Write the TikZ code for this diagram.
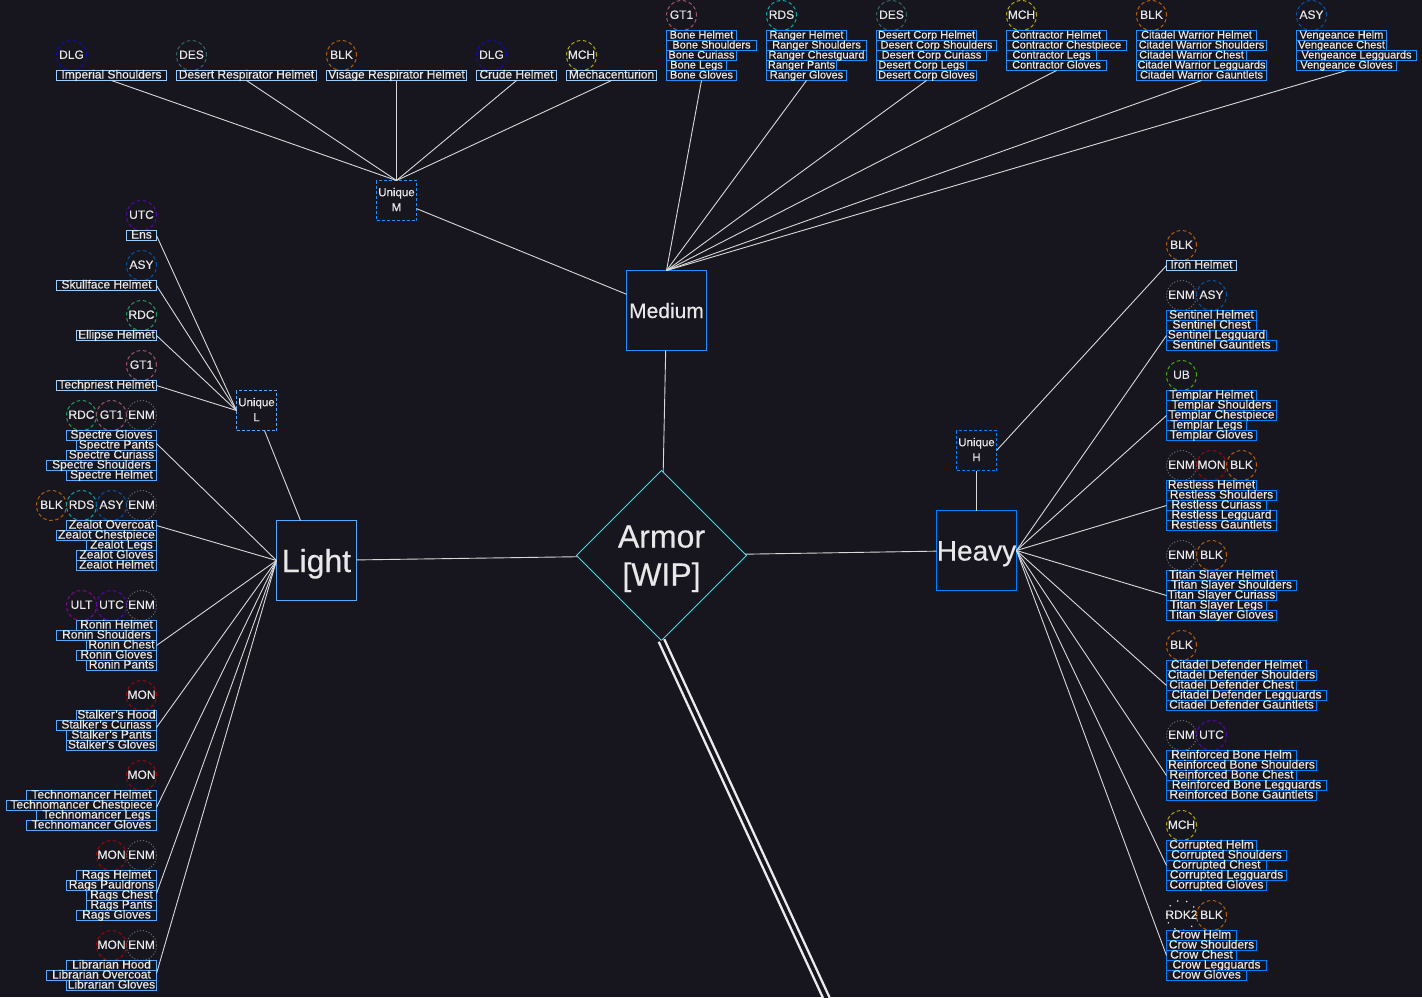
\documentclass[tikz,border=0pt]{standalone}
\usepackage{fontspec}
\setmainfont{Liberation Sans}[FakeBold=0.35]
\usetikzlibrary{shapes.geometric}
\definecolor{bgc}{HTML}{17161F}
\definecolor{txt}{HTML}{E8E8E8}
\definecolor{lnk}{HTML}{D8D8D8}
\definecolor{hvy}{HTML}{0080FF}
\definecolor{med}{HTML}{2090FF}
\definecolor{lgt}{HTML}{55AAFF}
\definecolor{pale}{HTML}{99CCFF}
\definecolor{dia}{HTML}{3FDCDC}
\tikzset{
  link/.style={draw=lnk,line width=0.9pt},
  rowbox/.style={draw,line width=1pt,inner sep=0pt,outer sep=0pt,text=txt,
    font=\fontsize{12}{12}\selectfont,text height=8pt,text depth=2pt,minimum height=10pt,anchor=north west},
  rowH/.style={rowbox,draw=hvy},
  rowM/.style={rowbox,draw=med,font=\fontsize{11}{11}\selectfont},
  rowL/.style={rowbox,draw=lgt},
  rowU/.style={rowbox,draw=pale},
  tagbase/.style={circle,line width=1pt,minimum size=30pt,inner sep=0pt,outer sep=0pt,text=txt,
    font=\fontsize{12}{12}\selectfont,text height=8.6pt,text depth=2pt},
  tagdash/.style={tagbase,draw=#1,dash pattern=on 3.6pt off 2.6pt},
  DLG/.style={tagdash=DLGc}, DES/.style={tagdash=DESc}, BLK/.style={tagdash=BLKc},
  MCH/.style={tagdash=MCHc}, UTC/.style={tagdash=UTCc}, ASY/.style={tagdash=ASYc},
  RDC/.style={tagdash=RDCc}, GTO/.style={tagdash=GTOc}, RDS/.style={tagdash=RDSc},
  ULT/.style={tagdash=ULTc}, MON/.style={tagdash=MONc}, UBB/.style={tagdash=UBBc},
  ENM/.style={tagbase,draw=ENMc,dash pattern=on 1.2pt off 1.8pt},
  RDK/.style={tagbase,draw=RDKc,line cap=round,dash pattern=on 0.1pt off 9pt,line width=1.7pt},
  mainbox/.style={draw,line width=1pt,minimum size=80pt,inner sep=0pt,outer sep=0pt,text=txt},
  uniq/.style={draw,line width=1pt,dash pattern=on 3pt off 2pt,minimum size=40pt,inner sep=0pt,outer sep=0pt,
    text=txt,align=center,font=\fontsize{11.5}{15}\selectfont},
}
\definecolor{DLGc}{HTML}{0A0ACC}
\definecolor{DESc}{HTML}{2F6868}
\definecolor{BLKc}{HTML}{B85C00}
\definecolor{MCHc}{HTML}{B3A600}
\definecolor{UTCc}{HTML}{5A00BB}
\definecolor{ASYc}{HTML}{0055AA}
\definecolor{RDCc}{HTML}{1A9F5F}
\definecolor{GTOc}{HTML}{A05565}
\definecolor{RDSc}{HTML}{00AAAA}
\definecolor{ULTc}{HTML}{8A0099}
\definecolor{MONc}{HTML}{AA0000}
\definecolor{UBBc}{HTML}{44AA00}
\definecolor{ENMc}{HTML}{666666}
\definecolor{RDKc}{HTML}{E0E0E0}
% stack with common right edge: name, right x, top y, style, {left/Text,...}
\newcommand\stackR[5]{\foreach \xa/\txa [count=\i] in {#5}{%
  \pgfmathsetmacro\rw{#2-\xa}\pgfmathsetmacro\yy{#3+(\i-1)*10}%
  \node[#4,minimum width=\rw pt] (#1\i) at (\xa,\yy) {\txa};}}
% stack with common left edge: name, left x, top y, style, {right/Text,...}
\newcommand\stackF[5]{\foreach \xa/\txa [count=\i] in {#5}{%
  \pgfmathsetmacro\rw{\xa-#2}\pgfmathsetmacro\yy{#3+(\i-1)*10}%
  \node[#4,minimum width=\rw pt] (#1\i) at (#2,\yy) {\txa};}}
\newcommand\tagc[5]{\node[#5] (#1) at (#2,#3) {\makebox[0pt][c]{#4}};}
\newcommand\lowered[2]{\raisebox{-#1pt}[0pt][0pt]{#2}}
\begin{document}
\begin{tikzpicture}[x=1pt,y=-1pt]
\fill[bgc] (0,0) rectangle (1422,997);
\useasboundingbox (0,0) rectangle (1422,997);
\begin{scope}[xshift=-0.5pt,yshift=-0.5pt]
% central nodes
\node[diamond,aspect=1,draw=dia,line width=1pt,minimum width=170pt,minimum height=170pt,inner sep=0pt,outer sep=0pt,
  text=txt,align=center,font=\fontsize{32}{38}\selectfont] (armor) at (662,555) {\lowered{11}{Armor}\\\lowered{11}{[WIP]}};
\node[mainbox,draw=med,font=\fontsize{21}{21}\selectfont] (medium) at (667,310) {\lowered{7.5}{Medium}};
\node[mainbox,draw=lgt,font=\fontsize{32}{32}\selectfont] (light) at (317,560) {\lowered{11.5}{Light}};
\node[mainbox,draw=hvy,font=\fontsize{28}{28}\selectfont] (heavy) at (977,550) {\lowered{10}{Heavy}};
\node[uniq,draw=med] (uM) at (397,200) {Unique\\M\rule[-2pt]{0pt}{0pt}};
\node[uniq,draw=lgt] (uL) at (257,410) {Unique\\L\rule[-2pt]{0pt}{0pt}};
\node[uniq,draw=hvy] (uH) at (977,450) {Unique\\H\rule[-2pt]{0pt}{0pt}};
\coordinate (offpage) at (840.5,1027);

% Unique M children
\tagc{tm1}{72}{55}{DLG}{DLG}
\tagc{tm2}{192}{55}{DES}{DES}
\tagc{tm3}{342}{55}{BLK}{BLK}
\tagc{tm4}{492}{55}{DLG}{DLG}
\tagc{tm5}{582}{55}{MCH}{MCH}
\stackF{imp}{57}{70}{rowU}{167/Imperial Shoulders}
\stackF{drh}{177}{70}{rowU}{317/Desert Respirator Helmet}
\stackF{vrh}{327}{70}{rowU}{467/Visage Respirator Helmet}
\stackF{cru}{477}{70}{rowU}{557/Crude Helmet}
\stackF{mec}{567}{70}{rowU}{657/Mechacenturion}

% Medium
\tagc{tb1}{682}{15}{GT1}{GTO}
\stackF{bone}{667}{30}{rowM}{737/Bone Helmet,757/Bone Shoulders,737/Bone Curiass,727/Bone Legs,737/Bone Gloves}
\tagc{tr1}{782}{15}{RDS}{RDS}
\stackF{rang}{767}{30}{rowM}{847/Ranger Helmet,867/Ranger Shoulders,867/Ranger Chestguard,837/Ranger Pants,847/Ranger Gloves}
\tagc{td1}{892}{15}{DES}{DES}
\stackF{dcor}{877}{30}{rowM}{977/Desert Corp Helmet,997/Desert Corp Shoulders,987/Desert Corp Curiass,967/Desert Corp Legs,977/Desert Corp Gloves}
\tagc{tc1}{1022}{15}{MCH}{MCH}
\stackF{cont}{1007}{30}{rowM}{1107/Contractor Helmet,1127/Contractor Chestpiece,1097/Contractor Legs,1107/Contractor Gloves}
\tagc{tw1}{1152}{15}{BLK}{BLK}
\stackF{cwar}{1137}{30}{rowM}{1257/Citadel Warrior Helmet,1267/Citadel Warrior Shoulders,1247/Citadel Warrior Chest,1267/Citadel Warrior Legguards,1267/Citadel Warrior Gauntlets}
\tagc{tv1}{1312}{15}{ASY}{ASY}
\stackF{veng}{1297}{30}{rowM}{1387/Vengeance Helm,1387/Vengeance Chest,1417/Vengeance Legguards,1397/Vengeance Gloves}

% Unique L children
\tagc{tl1}{142}{215}{UTC}{UTC}
\stackR{ens}{157}{230}{rowU}{127/Ens}
\tagc{tl2}{142}{265}{ASY}{ASY}
\stackR{sku}{157}{280}{rowU}{57/Skullface Helmet}
\tagc{tl3}{142}{315}{RDC}{RDC}
\stackR{ell}{157}{330}{rowU}{77/Ellipse Helmet}
\tagc{tl4}{142}{365}{GT1}{GTO}
\stackR{tec}{157}{380}{rowU}{57/Techpriest Helmet}

% Light
\tagc{ts1}{82}{415}{RDC}{RDC}\tagc{ts2}{112}{415}{GT1}{GTO}\tagc{ts3}{142}{415}{ENM}{ENM}
\stackR{spec}{157}{430}{rowL}{67/Spectre Gloves,77/Spectre Pants,67/Spectre Curiass,47/Spectre Shoulders,67/Spectre Helmet}
\tagc{tz1}{52}{505}{BLK}{BLK}\tagc{tz2}{82}{505}{RDS}{RDS}\tagc{tz3}{112}{505}{ASY}{ASY}\tagc{tz4}{142}{505}{ENM}{ENM}
\stackR{zeal}{157}{520}{rowL}{67/Zealot Overcoat,57/Zealot Chestpiece,87/Zealot Legs,77/Zealot Gloves,77/Zealot Helmet}
\tagc{to1}{82}{605}{ULT}{ULT}\tagc{to2}{112}{605}{UTC}{UTC}\tagc{to3}{142}{605}{ENM}{ENM}
\stackR{roni}{157}{620}{rowL}{77/Ronin Helmet,57/Ronin Shoulders,87/Ronin Chest,77/Ronin Gloves,87/Ronin Pants}
\tagc{tk1}{142}{695}{MON}{MON}
\stackR{stal}{157}{710}{rowL}{77/Stalker's Hood,57/Stalker's Curiass,67/Stalker's Pants,67/Stalker's Gloves}
\tagc{tn1}{142}{775}{MON}{MON}
\stackR{tech}{157}{790}{rowL}{27/Technomancer Helmet,7/Technomancer Chestpiece,37/Technomancer Legs,27/Technomancer Gloves}
\tagc{tg1}{112}{855}{MON}{MON}\tagc{tg2}{142}{855}{ENM}{ENM}
\stackR{rags}{157}{870}{rowL}{77/Rags Helmet,67/Rags Pauldrons,87/Rags Chest,87/Rags Pants,77/Rags Gloves}
\tagc{ti1}{112}{945}{MON}{MON}\tagc{ti2}{142}{945}{ENM}{ENM}
\stackR{libr}{157}{960}{rowL}{67/Librarian Hood,47/Librarian Overcoat,67/Librarian Gloves}

% Heavy
\tagc{hi1}{1182}{245}{BLK}{BLK}
\stackF{iron}{1167}{260}{rowU}{1237/Iron Helmet}
\tagc{hs1}{1182}{295}{ENM}{ENM}\tagc{hs2}{1212}{295}{ASY}{ASY}
\stackF{sent}{1167}{310}{rowH}{1257/Sentinel Helmet,1257/Sentinel Chest,1267/Sentinel Legguard,1277/Sentinel Gauntlets}
\tagc{ht1}{1182}{375}{UB}{UBB}
\stackF{temp}{1167}{390}{rowH}{1257/Templar Helmet,1277/Templar Shoulders,1277/Templar Chestpiece,1247/Templar Legs,1257/Templar Gloves}
\tagc{hr1}{1182}{465}{ENM}{ENM}\tagc{hr2}{1212}{465}{MON}{MON}\tagc{hr3}{1242}{465}{BLK}{BLK}
\stackF{rest}{1167}{480}{rowH}{1257/Restless Helmet,1277/Restless Shoulders,1267/Restless Curiass,1277/Restless Legguard,1277/Restless Gauntlets}
\tagc{hy1}{1182}{555}{ENM}{ENM}\tagc{hy2}{1212}{555}{BLK}{BLK}
\stackF{tita}{1167}{570}{rowH}{1277/Titan Slayer Helmet,1297/Titan Slayer Shoulders,1277/Titan Slayer Curiass,1267/Titan Slayer Legs,1277/Titan Slayer Gloves}
\tagc{hd1}{1182}{645}{BLK}{BLK}
\stackF{cdef}{1167}{660}{rowH}{1307/Citadel Defender Helmet,1317/Citadel Defender Shoulders,1297/Citadel Defender Chest,1327/Citadel Defender Legguards,1317/Citadel Defender Gauntlets}
\tagc{he1}{1182}{735}{ENM}{ENM}\tagc{he2}{1212}{735}{UTC}{UTC}
\stackF{rein}{1167}{750}{rowH}{1297/Reinforced Bone Helm,1317/Reinforced Bone Shoulders,1297/Reinforced Bone Chest,1327/Reinforced Bone Legguards,1317/Reinforced Bone Gauntlets}
\tagc{hc1}{1182}{825}{MCH}{MCH}
\stackF{corr}{1167}{840}{rowH}{1257/Corrupted Helm,1287/Corrupted Shoulders,1267/Corrupted Chest,1287/Corrupted Legguards,1267/Corrupted Gloves}
\tagc{hw1}{1182}{915}{RDK2}{RDK}\tagc{hw2}{1212}{915}{BLK}{BLK}
\stackF{crow}{1167}{930}{rowH}{1237/Crow Helm,1257/Crow Shoulders,1237/Crow Chest,1267/Crow Legguards,1247/Crow Gloves}

% connectors: spine
\draw[link] (medium) -- (armor);
\draw[link] (light) -- (armor);
\draw[link] (heavy) -- (armor);
\draw[link] (uM) -- (medium);
\draw[link] (uL) -- (light);
\draw[link] (uH) -- (heavy);
\draw[draw=white!92!black,line width=2.4pt,double=bgc,double distance=3.6pt] (armor.south) -- (offpage);
% Unique M
\foreach \n in {imp1,drh1,vrh1,cru1,mec1} \draw[link] (\n.south) -- (uM.north);
% Medium
\foreach \n in {bone5,rang5,dcor5,cont4,cwar5,veng4} \draw[link] (\n.south) -- (medium.north);
% Unique L
\foreach \n in {ens1,sku1,ell1,tec1} \draw[link] (\n.east) -- (uL.west);
% Light
\draw[link] ([yshift=2pt]spec2.east) -- (light.west);
\draw[link] (zeal1.east) -- (light.west);
\draw[link] (roni3.east) -- (light.west);
\draw[link] ([yshift=-2pt]stal2.east) -- (light.west);
\draw[link] ([yshift=-2pt]tech2.east) -- (light.west);
\draw[link] ([yshift=2pt]rags3.east) -- (light.west);
\draw[link] ([yshift=2pt]libr2.east) -- (light.west);
% Heavy
\draw[link] (iron1.west) -- (uH.east);
\foreach \n in {sent3,temp3,rest3,tita3,cdef3,rein3,corr3,crow3} \draw[link] (\n.west) -- (heavy.east);
\end{scope}
\end{tikzpicture}
\end{document}
